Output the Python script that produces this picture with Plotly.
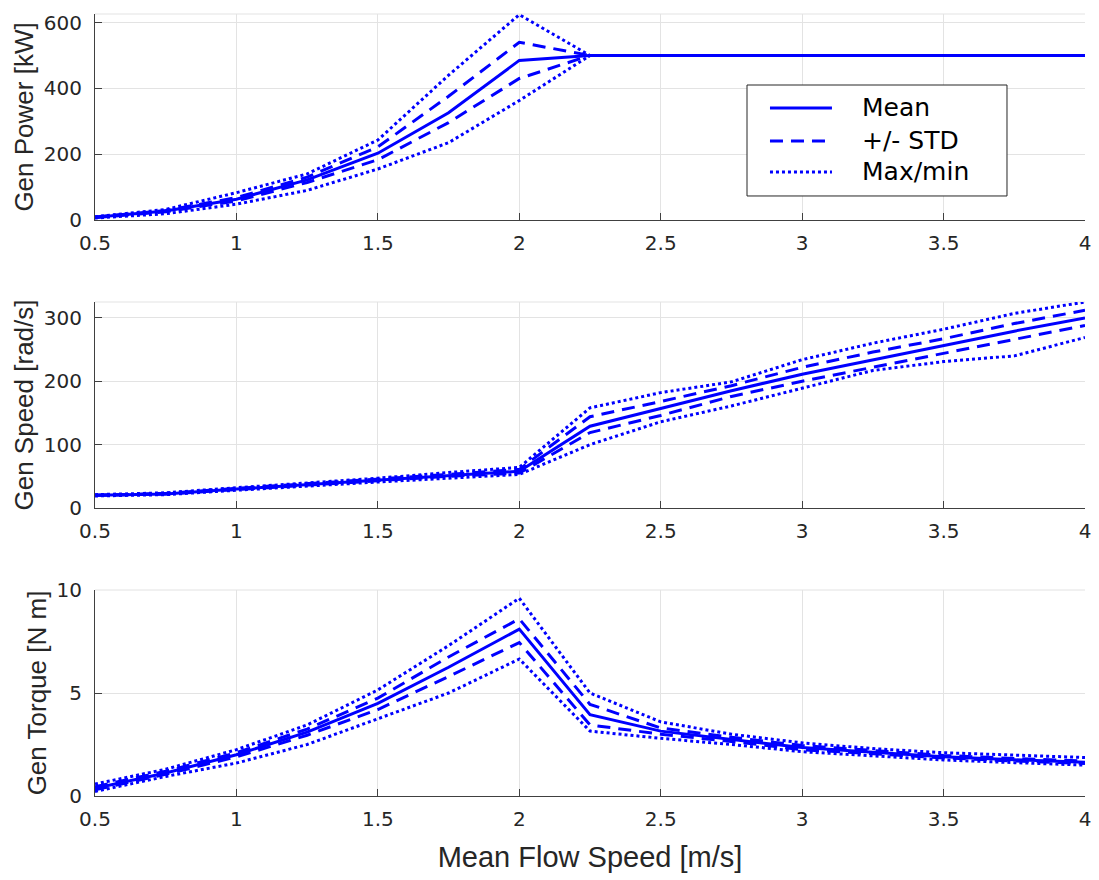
import plotly.graph_objects as go
from plotly.subplots import make_subplots

# Mean flow speed bins [m/s]
flow_speed = [0.5, 0.75, 1.0, 1.25, 1.5, 1.75, 2.0, 2.25, 2.5, 2.75, 3.0, 3.25, 3.5, 3.75, 4.0]

# Generator power [kW]
power_mean = [8, 27, 63, 122, 203, 326, 485, 500, 500, 500, 500, 500, 500, 500, 500]
power_std_hi = [9, 29, 68, 130, 222, 376, 540, 500, 500, 500, 500, 500, 500, 500, 500]
power_std_lo = [7, 25, 58, 114, 183, 296, 430, 500, 500, 500, 500, 500, 500, 500, 500]
power_max = [10, 32, 83, 140, 243, 440, 624, 500, 500, 500, 500, 500, 500, 500, 500]
power_min = [6, 19, 48, 90, 155, 235, 363, 500, 500, 500, 500, 500, 500, 500, 500]

# Generator speed [rad/s]
speed_mean = [20, 22, 30, 37, 44, 51, 58, 129, 157, 185, 211, 234, 256, 279, 300]
speed_std_hi = [20, 23, 31, 38, 45, 53, 61, 144, 168, 193, 222, 246, 267, 291, 312]
speed_std_lo = [20, 22, 29, 36, 43, 50, 55, 119, 146, 176, 200, 222, 245, 266, 288]
speed_max = [21, 24, 32, 39, 47, 56, 64, 158, 182, 199, 234, 260, 282, 307, 325]
speed_min = [19, 21, 28, 35, 41, 47, 53, 100, 136, 161, 189, 217, 231, 240, 269]

# Generator torque [N m]
torque_mean = [0.37, 1.12, 2.0, 3.1, 4.5, 6.25, 8.1, 3.95, 3.15, 2.75, 2.35, 2.12, 1.9, 1.76, 1.64]
torque_std_hi = [0.45, 1.2, 2.1, 3.25, 4.75, 6.75, 8.6, 4.45, 3.3, 2.85, 2.45, 2.2, 1.97, 1.82, 1.7]
torque_std_lo = [0.3, 1.05, 1.9, 2.95, 4.2, 5.8, 7.45, 3.45, 3.0, 2.65, 2.25, 2.05, 1.85, 1.7, 1.58]
torque_max = [0.58, 1.3, 2.25, 3.45, 5.15, 7.3, 9.6, 5.0, 3.6, 3.0, 2.58, 2.3, 2.1, 1.98, 1.87]
torque_min = [0.22, 0.95, 1.6, 2.5, 3.75, 5.0, 6.65, 3.15, 2.8, 2.5, 2.15, 1.95, 1.75, 1.62, 1.5]

x_ticks = [0.5, 1, 1.5, 2, 2.5, 3, 3.5, 4]
x_tick_text = ["0.5", "1", "1.5", "2", "2.5", "3", "3.5", "4"]

panels = [
    ("Gen Power [kW]", [0, 626], [0, 200, 400, 600],
     power_mean, power_std_hi, power_std_lo, power_max, power_min),
    ("Gen Speed [rad/s]", [0, 325], [0, 100, 200, 300],
     speed_mean, speed_std_hi, speed_std_lo, speed_max, speed_min),
    ("Gen Torque [N m]", [0, 10], [0, 5, 10],
     torque_mean, torque_std_hi, torque_std_lo, torque_max, torque_min),
]

BLUE = "#0000ff"
LW = 3
DASH = "13px,8px"
DOT = "3px,3px"
AXIS_COLOR = "#404040"
GRID_COLOR = "#e3e3e3"
TEXT_COLOR = "#262626"

fig = make_subplots(rows=3, cols=1)

for i, (ylabel, yrange, yticks, mean, hi, lo, mx, mn) in enumerate(panels, start=1):
    series = [
        (mean, "solid", "Mean"),
        (hi, DASH, "+/- STD"),
        (lo, DASH, "+/- STD"),
        (mx, DOT, "Max/min"),
        (mn, DOT, "Max/min"),
    ]
    for ys, dash, name in series:
        fig.add_trace(
            go.Scatter(x=flow_speed, y=ys, mode="lines", name=name, showlegend=False,
                       line=dict(color=BLUE, width=LW, dash=dash)),
            row=i, col=1,
        )
    fig.update_yaxes(
        range=yrange, tickvals=yticks,
        title=dict(text=ylabel, standoff=2,
                   font=dict(family="Liberation Sans, Arial", size=26, color=TEXT_COLOR)),
        row=i, col=1,
    )

# Panel placement (paper fractions)
domains = [[0.7366, 1.0], [0.3683, 0.6317], [0.0, 0.2634]]
for i, dom in enumerate(domains, start=1):
    fig.update_yaxes(domain=dom, row=i, col=1)

fig.update_xaxes(
    range=[0.5, 4], tickvals=x_ticks, ticktext=x_tick_text,
    showgrid=True, gridcolor=GRID_COLOR, gridwidth=1,
    showline=True, linecolor=AXIS_COLOR, linewidth=1,
    ticks="inside", ticklen=7, tickcolor=AXIS_COLOR,
    ticklabelstandoff=5,
    tickfont=dict(family="DejaVu Sans", size=20, color=TEXT_COLOR),
    zeroline=False, automargin=False,
)
fig.update_yaxes(
    showgrid=True, gridcolor=GRID_COLOR, gridwidth=1,
    showline=True, linecolor=AXIS_COLOR, linewidth=1,
    ticks="inside", ticklen=7, tickcolor=AXIS_COLOR,
    ticklabelstandoff=8,
    tickfont=dict(family="DejaVu Sans", size=20, color=TEXT_COLOR),
    zeroline=False, automargin=False,
)
fig.update_xaxes(
    title=dict(text="Mean Flow Speed [m/s]", standoff=16,
               font=dict(family="Liberation Sans, Arial", size=29, color=TEXT_COLOR)),
    row=3, col=1,
)

# Light upper frame edge on each panel
for i in range(1, 4):
    yref = "y domain" if i == 1 else f"y{i} domain"
    xref = "x domain" if i == 1 else f"x{i} domain"
    fig.add_shape(type="line", xref=xref, yref=yref, x0=0, x1=1, y0=1, y1=1,
                  line=dict(color=GRID_COLOR, width=1), layer="below")

# Legend box on the power panel
legend_items = [("Mean", "solid", 0.8798), ("+/- STD", DASH, 0.8376), ("Max/min", DOT, 0.7980)]
fig.add_shape(type="rect", xref="paper", yref="paper", x0=0.6586, x1=0.9212, y0=0.7673, y1=0.9092,
              line=dict(color="#262626", width=1), fillcolor="white", layer="above")
for label, dash, ypos in legend_items:
    fig.add_shape(type="line", xref="paper", yref="paper", x0=0.6818, x1=0.7444, y0=ypos, y1=ypos,
                  line=dict(color=BLUE, width=LW, dash=dash), layer="above")
    fig.add_annotation(xref="paper", yref="paper", x=0.7727, y=ypos, text=label, showarrow=False,
                       xanchor="left", yanchor="middle",
                       font=dict(family="DejaVu Sans", size=25, color="black"))

fig.update_layout(
    width=1099, height=880,
    margin=dict(l=95, r=14, t=14, b=84),
    plot_bgcolor="white", paper_bgcolor="white",
    showlegend=False,
)

fig.write_html("out.html")
